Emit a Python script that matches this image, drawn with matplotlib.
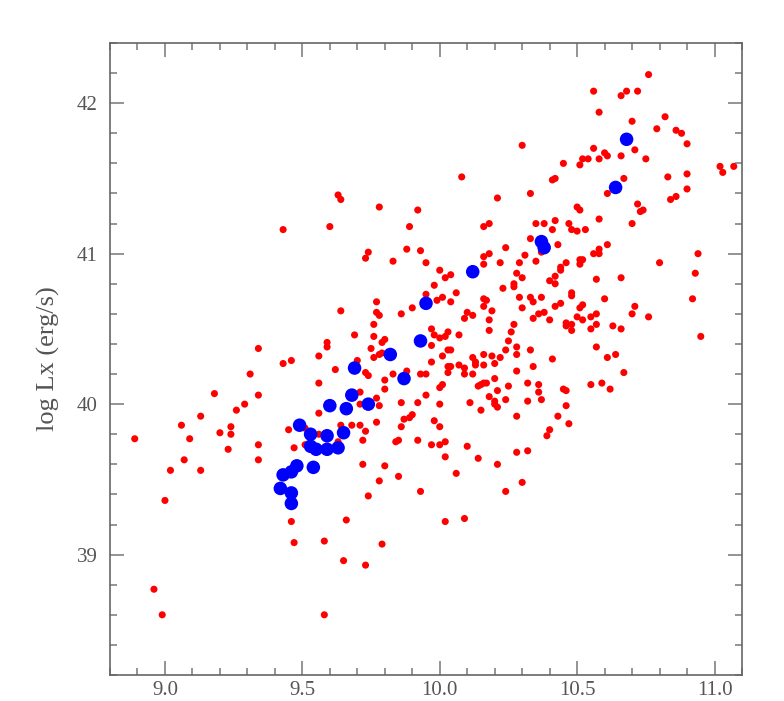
import matplotlib
matplotlib.use("Agg")
import matplotlib.pyplot as plt
from matplotlib.ticker import MultipleLocator

# Red points: (log mass-like quantity, log Lx)
red_x = [
    9.43, 9.34, 9.43, 9.46, 9.56, 9.31, 9.56, 9.18, 9.34, 9.29, 9.26, 9.13, 9.56,
    9.06, 9.24, 9.20, 9.24, 8.89, 9.09, 9.34, 9.23, 9.45, 9.51, 9.47, 9.51, 9.56,
    9.07, 9.34, 9.02, 9.13, 9.00, 9.46, 9.47, 8.96, 8.99, 9.58, 9.58, 9.65, 9.73,
    9.79, 9.66,
    10.30, 10.08, 9.63, 9.64, 10.33, 10.21, 9.78, 9.92, 9.60, 9.89, 10.16, 10.18,
    10.33, 10.24, 9.74, 9.73, 9.88, 9.93, 9.83, 9.95, 10.16, 10.18, 10.16, 10.22,
    10.29, 10.31, 10.00, 10.02, 10.04, 9.98, 10.28, 10.30, 10.27, 10.27, 10.23,
    9.95, 10.06, 10.01, 9.99, 10.04, 10.16, 10.17, 10.29, 10.30, 9.77, 9.64, 9.77,
    9.78, 9.86, 9.90, 10.16, 10.19, 10.10, 10.12, 10.09, 10.18, 10.27, 9.76, 9.97,
    10.18, 10.26, 9.69, 9.76, 9.98, 10.00, 10.02, 10.03, 10.07, 10.25, 9.80, 9.79,
    9.59, 9.59, 9.97, 10.28, 9.75, 10.03, 10.04, 10.24, 10.33, 9.78, 9.79, 9.76,
    10.01, 10.16, 10.19, 10.22, 10.28, 10.12, 9.97, 10.13, 10.20, 9.70, 9.62, 10.03,
    10.04, 10.07, 10.09, 10.13, 10.16, 9.73, 9.74, 9.88, 9.83, 9.93, 9.95, 10.03,
    10.09, 10.12, 10.28, 9.80, 10.20, 10.32, 10.01, 10.00, 10.14, 10.15, 10.16,
    10.17, 9.80, 10.25, 10.21, 9.71, 9.95, 10.18, 10.24, 9.77, 9.86, 9.92, 10.00,
    10.11, 10.20, 10.20, 10.32, 9.71, 9.78, 10.21, 10.15, 9.90, 9.89, 9.87, 10.28,
    9.98, 9.77, 9.68, 9.71, 10.00, 9.86, 9.73, 9.64, 9.63,
    9.72, 9.84, 9.85, 9.92, 9.97, 10.00, 10.02, 10.10, 10.28, 10.32, 9.72, 9.80,
    10.02, 10.14, 10.21, 10.06, 9.78, 9.85, 10.30, 9.93, 10.24, 9.74, 10.02, 10.09,
    10.76, 10.56, 10.66, 10.68, 10.72, 10.58, 10.82, 10.70, 10.79, 10.86, 10.88,
    10.90, 10.56, 10.71, 10.60, 10.61, 10.66, 10.52, 10.54, 10.58, 10.75, 10.45,
    10.51, 11.02, 11.03, 11.07, 10.90, 10.83, 10.67, 10.41, 10.42, 10.61, 10.90,
    10.84, 10.86, 10.72, 10.50, 10.51, 10.73, 10.74, 10.58, 10.42, 10.70, 10.35,
    10.38, 10.47,
    10.48, 10.50, 10.53, 10.41, 10.43, 10.61, 10.58, 10.56, 10.58, 10.35, 10.37,
    10.94, 10.80, 10.46, 10.44, 10.44, 10.51, 10.52, 10.51, 10.93, 10.42, 10.40,
    10.42, 10.57, 10.66, 10.48, 10.48, 10.33, 10.34, 10.37, 10.60, 10.92, 10.44,
    10.42, 10.52, 10.51, 10.71, 10.38, 10.36, 10.34, 10.40, 10.50, 10.55, 10.57,
    10.52, 10.70, 10.76, 10.46, 10.46, 10.48, 10.48, 10.57, 10.55, 10.63, 10.66,
    10.95, 10.57, 10.61, 10.64, 10.41, 10.34, 10.67, 10.36, 10.55, 10.59,
    10.36, 10.45, 10.46, 10.62, 10.37, 10.46, 10.43, 10.47, 10.40, 10.39,
]
red_y = [
    41.16, 40.37, 40.27, 40.29, 40.32, 40.20, 40.14, 40.07, 40.06, 40.00, 39.96, 39.92, 39.94,
    39.86, 39.85, 39.81, 39.80, 39.77, 39.77, 39.73, 39.70, 39.83, 39.84, 39.71, 39.73, 39.80,
    39.63, 39.63, 39.56, 39.56, 39.36, 39.22, 39.08, 38.77, 38.60, 38.60, 39.09, 38.96, 38.93,
    39.07, 39.23,
    41.72, 41.51, 41.39, 41.36, 41.40, 41.37, 41.31, 41.29, 41.18, 41.18, 41.18, 41.20,
    41.10, 41.04, 41.01, 40.97, 41.03, 41.02, 40.95, 40.94, 40.98, 41.00, 40.93, 40.94,
    40.94, 40.99, 40.89, 40.84, 40.86, 40.79, 40.87, 40.84, 40.80, 40.78, 40.77,
    40.73, 40.74, 40.71, 40.69, 40.68, 40.70, 40.69, 40.71, 40.64, 40.68, 40.62, 40.61,
    40.59, 40.60, 40.64, 40.65, 40.62, 40.61, 40.59, 40.57, 40.56, 40.53, 40.53, 40.50,
    40.49, 40.48, 40.46, 40.45, 40.46, 40.44, 40.45, 40.48, 40.46, 40.42, 40.43, 40.41,
    40.41, 40.38, 40.39, 40.38, 40.37, 40.36, 40.36, 40.36, 40.36, 40.33, 40.34, 40.31,
    40.32, 40.33, 40.32, 40.31, 40.33, 40.31, 40.28, 40.28, 40.27, 40.29, 40.23, 40.25,
    40.25, 40.26, 40.24, 40.26, 40.26, 40.21, 40.19, 40.22, 40.20, 40.20, 40.20, 40.21,
    40.20, 40.20, 40.22, 40.16, 40.17, 40.14, 40.13, 40.11, 40.12, 40.13, 40.14,
    40.14, 40.10, 40.12, 40.09, 40.08, 40.06, 40.05, 40.03, 40.04, 40.01, 40.01, 40.00,
    40.01, 40.02, 40.00, 40.02, 40.00, 39.99, 39.98, 39.96, 39.93, 39.91, 39.90, 39.92,
    39.89, 39.88, 39.86, 39.86, 39.85, 39.85, 39.82, 39.86, 39.75,
    39.76, 39.75, 39.76, 39.76, 39.73, 39.73, 39.75, 39.72, 39.68, 39.69, 39.60, 39.59,
    39.65, 39.64, 39.60, 39.54, 39.49, 39.52, 39.48, 39.42, 39.42, 39.39, 39.22, 39.24,
    42.19, 42.08, 42.05, 42.08, 42.08, 41.94, 41.91, 41.88, 41.83, 41.82, 41.80,
    41.73, 41.70, 41.69, 41.67, 41.65, 41.65, 41.63, 41.63, 41.63, 41.63, 41.60,
    41.59, 41.58, 41.54, 41.58, 41.53, 41.51, 41.50, 41.49, 41.50, 41.40, 41.43,
    41.36, 41.38, 41.33, 41.31, 41.29, 41.28, 41.29, 41.23, 41.22, 41.20, 41.20,
    41.20, 41.20,
    41.16, 41.15, 41.16, 41.16, 41.06, 41.06, 41.03, 41.00, 41.00, 40.95, 41.01,
    41.00, 40.94, 40.94, 40.91, 40.89, 40.96, 40.96, 40.93, 40.87, 40.85, 40.82,
    40.80, 40.83, 40.84, 40.74, 40.72, 40.71, 40.68, 40.71, 40.70, 40.70, 40.67,
    40.65, 40.66, 40.64, 40.65, 40.61, 40.60, 40.57, 40.56, 40.58, 40.58, 40.60,
    40.56, 40.60, 40.58, 40.54, 40.52, 40.53, 40.49, 40.53, 40.50, 40.52, 40.50,
    40.45, 40.38, 40.31, 40.33, 40.30, 40.25, 40.21, 40.13, 40.13, 40.14,
    40.08, 40.10, 40.09, 40.10, 40.03, 39.99, 39.92, 39.87, 39.83, 39.79,
]

# Blue points
blue_x = [10.68, 10.64, 10.37, 10.38, 10.12, 9.95, 9.93, 9.82, 9.69, 9.87,
          9.68, 9.74, 9.60, 9.66, 9.49, 9.53, 9.59, 9.65, 9.53, 9.55,
          9.59, 9.63, 9.48, 9.54, 9.46, 9.43, 9.42, 9.46, 9.46]
blue_y = [41.76, 41.44, 41.08, 41.04, 40.88, 40.67, 40.42, 40.33, 40.24, 40.17,
          40.06, 40.00, 39.99, 39.97, 39.86, 39.80, 39.79, 39.81, 39.72, 39.70,
          39.70, 39.71, 39.59, 39.58, 39.55, 39.53, 39.44, 39.41, 39.34]

x_ticks = [9.0, 9.5, 10.0, 10.5, 11.0]
x_ticklabels = ["9.0", "9.5", "10.0", "10.5", "11.0"]
y_ticks = [39, 40, 41, 42]
y_ticklabels = ["39", "40", "41", "42"]
y_label = "log Lx (erg/s)"

fig = plt.figure(figsize=(7.84, 7.01), dpi=100)
ax = fig.add_axes([110 / 784, 26 / 701, 632 / 784, 632 / 701])

ax.scatter(red_x, red_y, s=26, color="#ff0000", edgecolors="none", zorder=2)
ax.scatter(blue_x, blue_y, s=95, color="#0000ff", edgecolors="none", zorder=3)

ax.set_xlim(8.8, 11.1)
ax.set_ylim(38.2, 42.4)

txt_color = "#555555"
font = "Liberation Serif"
ax.set_xticks(x_ticks)
ax.set_xticklabels(x_ticklabels, fontfamily=font, fontsize=15, color=txt_color)
ax.set_yticks(y_ticks)
ax.set_yticklabels(y_ticklabels, fontfamily=font, fontsize=15, color=txt_color)
ax.xaxis.set_minor_locator(MultipleLocator(0.1))
ax.yaxis.set_minor_locator(MultipleLocator(0.2))

ax.tick_params(which="both", direction="in", top=True, right=True,
               color="#777777", width=1.1)
ax.tick_params(which="major", length=10)
ax.tick_params(which="minor", length=5)
ax.tick_params(axis="x", which="major", pad=4)
ax.tick_params(axis="y", which="major", pad=9)

for sp in ax.spines.values():
    sp.set_color("#666666")
    sp.set_linewidth(1.2)

ax.set_ylabel(y_label, fontfamily=font, fontsize=19, color=txt_color, labelpad=12)

fig.savefig("out.png", dpi=100)
